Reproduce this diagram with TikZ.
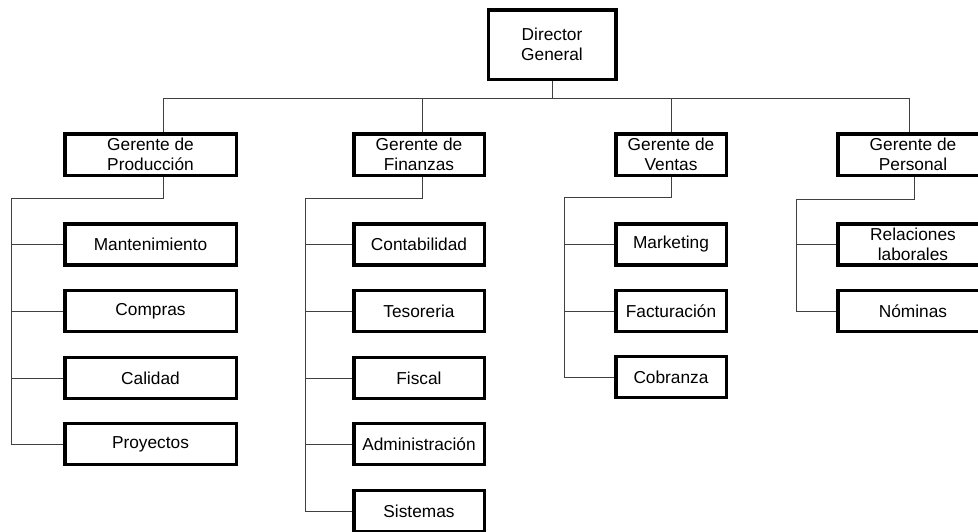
\documentclass[tikz,border=0pt]{standalone}
\usepackage{fontspec}
\setmainfont{Liberation Sans}
\begin{document}
\begin{tikzpicture}[x=1pt,y=-1pt,
  box/.style={draw=black, line width=3.5pt, fill=white, align=center, inner sep=0pt,
    font=\fontsize{17.3}{19.6}\selectfont, text=black},
  lvl/.style={box, minimum height=41.5pt},
  leaf/.style={box, minimum height=41pt},
  link/.style={draw=black!75, line width=1pt}]
\useasboundingbox (0,0) rectangle (978,531);
% top
\node[box, minimum width=127.5pt, minimum height=69.5pt] (dir) at (552,44.5) {Director\\General};
% level 1
\node[lvl, minimum width=171.5pt] (prod) at (150.5,154.5) {Gerente de\\Producción};
\node[lvl, minimum width=130.5pt] (fin) at (419,154.5) {Gerente de\\Finanzas};
\node[lvl, minimum width=110.5pt] (ven) at (671,154.5) {Gerente de\\Ventas};
\node[lvl, minimum width=150.5pt] (per) at (913,154.5) {Gerente de\\Personal};
% produccion children
\node[leaf, minimum width=171.5pt] (mant) at (150.5,244.5) {Mantenimiento};
\node[leaf, minimum width=171.5pt] (comp) at (150.5,311) {Compras};
\node[leaf, minimum width=171.5pt] (cal) at (150.5,378) {Calidad};
\node[leaf, minimum width=171.5pt] (proy) at (150.5,444) {Proyectos};
% finanzas children
\node[leaf, minimum width=130.5pt] (cont) at (419,244.5) {Contabilidad};
\node[leaf, minimum width=130.5pt] (teso) at (419,311) {Tesoreria};
\node[leaf, minimum width=130.5pt] (fisc) at (419,378) {Fiscal};
\node[leaf, minimum width=130.5pt] (adm) at (419,444) {Administración};
\node[leaf, minimum width=130.5pt] (sis) at (419,511) {Sistemas};
% ventas children
\node[leaf, minimum width=110.5pt] (mark) at (671,244.5) {Marketing};
\node[leaf, minimum width=110.5pt] (fact) at (671,311) {Facturación};
\node[leaf, minimum width=110.5pt] (cobr) at (671,377) {Cobranza};
% personal children
\node[leaf, minimum width=150.5pt] (rel) at (913,244.5) {Relaciones\\laborales};
\node[leaf, minimum width=150.5pt] (nom) at (913,311) {Nóminas};
% bus
\coordinate (b1) at (163,98);
\coordinate (b2) at (422,98);
\coordinate (b3) at (671,98);
\coordinate (b4) at (909,98);
\draw[link] (dir.south) -- (dir.south |- b1);
\draw[link] (b1) -- (b4);
\draw[link] (b1) -- (b1 |- prod.north);
\draw[link] (b2) -- (b2 |- fin.north);
\draw[link] (b3) -- (b3 |- ven.north);
\draw[link] (b4) -- (b4 |- per.north);
% produccion branch
\coordinate (p0) at (163,198);
\coordinate (pl) at (11,198);
\draw[link] (p0 |- prod.south) -- (p0) -- (pl) -- (pl |- proy.west) -- (proy.west);
\draw[link] (pl |- mant.west) -- (mant.west);
\draw[link] (pl |- comp.west) -- (comp.west);
\draw[link] (pl |- cal.west) -- (cal.west);
% finanzas branch
\coordinate (f0) at (422,198);
\coordinate (fl) at (305,198);
\draw[link] (f0 |- fin.south) -- (f0) -- (fl) -- (fl |- sis.west) -- (sis.west);
\draw[link] (fl |- cont.west) -- (cont.west);
\draw[link] (fl |- teso.west) -- (teso.west);
\draw[link] (fl |- fisc.west) -- (fisc.west);
\draw[link] (fl |- adm.west) -- (adm.west);
% ventas branch
\coordinate (v0) at (671,197);
\coordinate (vl) at (564,197);
\draw[link] (v0 |- ven.south) -- (v0) -- (vl) -- (vl |- cobr.west) -- (cobr.west);
\draw[link] (vl |- mark.west) -- (mark.west);
\draw[link] (vl |- fact.west) -- (fact.west);
% personal branch
\coordinate (e0) at (914,199);
\coordinate (el) at (796,199);
\draw[link] (e0 |- per.south) -- (e0) -- (el) -- (el |- nom.west) -- (nom.west);
\draw[link] (el |- rel.west) -- (rel.west);
\end{tikzpicture}
\end{document}
